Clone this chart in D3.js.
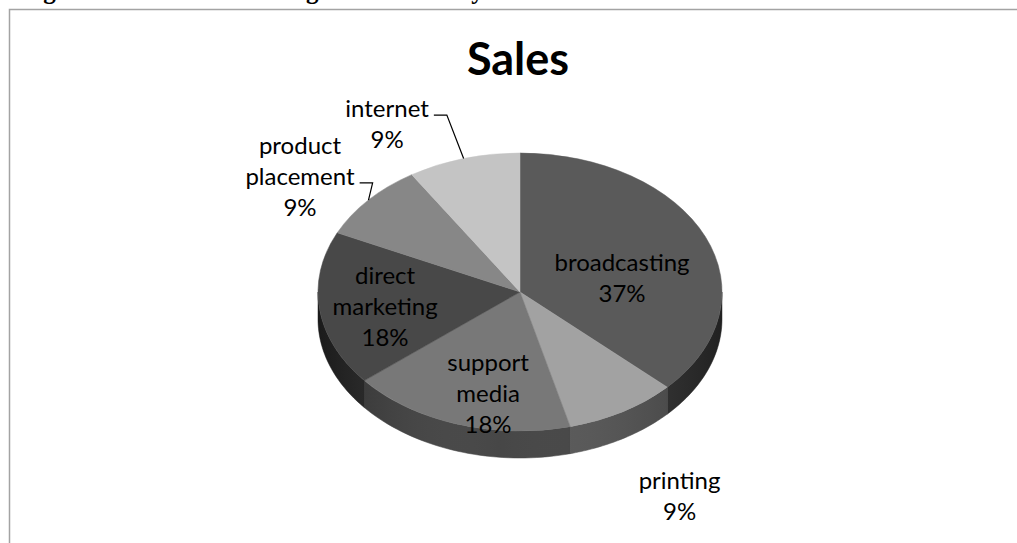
<!DOCTYPE html>
<html>
<head>
<meta charset="utf-8">
<script src="https://cdn.jsdelivr.net/npm/d3@7"></script>
<style>
  body { margin: 0; background: #fff; }
  svg { display: block; }
</style>
</head>
<body>
<div id="chart"></div>
<script>
// chart data
const categories = ['broadcasting', 'printing', 'support media', 'direct marketing', 'product placement', 'internet'];
const values = [37, 9, 18, 18, 9, 9];
const labelLines = [['broadcasting'], ['printing'], ['support', 'media'], ['direct', 'marketing'], ['product', 'placement'], ['internet']];
const sliceColors = ['#5a5a5a', '#a2a2a2', '#787878', '#484848', '#878787', '#c4c4c4'];
const title = 'Sales';
const caption = 'Figure 5: Media advertising distribution by channel';

// label anchor, in units of the pie radii, and leader line settings
const labelAnchor = [[0.505, -0.036], [0.79, 1.532], [-0.158, 0.788], [-0.668, 0.169], [-1.089, -0.77], [-0.658, -1.147]];
const leaderLine = [null, null, null, null, 1, 0];

const W = 1017, H = 543;
const cx = 520, cy = 292, rx = 202, ry = 139, depth = 27;
const lineH = 31;

const svg = d3.select('#chart').append('svg')
  .attr('width', W)
  .attr('height', H);

// cut off caption of the document above the chart
svg.append('text')
  .attr('x', 21)
  .attr('y', -1)
  .attr('font-family', 'Liberation Serif')
  .attr('font-weight', 'bold')
  .attr('font-size', 25)
  .text(caption);

// chart area frame
svg.append('rect')
  .attr('x', 9.5)
  .attr('y', 9.5)
  .attr('width', 1200)
  .attr('height', 700)
  .attr('fill', 'none')
  .attr('stroke', '#a3a3a3')
  .attr('stroke-width', 1.5);

svg.append('text')
  .attr('x', 518)
  .attr('y', 75)
  .attr('text-anchor', 'middle')
  .attr('font-family', 'Lato')
  .attr('font-weight', 'bold')
  .attr('font-size', 45)
  .attr('fill', '#000')
  .text(title);

const rows = categories.map((c, i) => ({ key: c, value: values[i], idx: i }));
const pie = d3.pie().value(d => d.value).sort(null);
const arcs = pie(rows);

// point on the top ellipse for a d3 angle (clockwise from 12 o'clock)
const px = (a, r = 1) => cx + rx * r * Math.sin(a);
const py = (a, r = 1) => cy - ry * r * Math.cos(a);

// front side walls (only the lower half of the ellipse is visible)
const sideG = svg.append('g');
const line = d3.line();
arcs.forEach(d => {
  const a1 = Math.max(d.startAngle, Math.PI / 2);
  const a2 = Math.min(d.endAngle, Math.PI * 3 / 2);
  if (a2 <= a1) return;
  const steps = d3.range(0, 41).map(k => a1 + (a2 - a1) * k / 40);
  const top = steps.map(a => [px(a), py(a)]);
  const bottom = steps.slice().reverse().map(a => [px(a), py(a) + depth]);
  sideG.append('path')
    .attr('d', line(top.concat(bottom)) + 'Z')
    .attr('fill', d3.color(sliceColors[d.data.idx]).darker(2))
    .attr('stroke', d3.color(sliceColors[d.data.idx]).darker(2))
    .attr('stroke-width', 0.5);
});

// soft shading across the side
const defs = svg.append('defs');
const grad = defs.append('linearGradient').attr('id', 'sideShade')
  .attr('x1', 0).attr('x2', 1).attr('y1', 0).attr('y2', 0);
grad.append('stop').attr('offset', '0%').attr('stop-color', '#000').attr('stop-opacity', 0.25);
grad.append('stop').attr('offset', '45%').attr('stop-color', '#fff').attr('stop-opacity', 0.06);
grad.append('stop').attr('offset', '100%').attr('stop-color', '#000').attr('stop-opacity', 0.25);
{
  const steps = d3.range(0, 81).map(k => Math.PI / 2 + Math.PI * k / 80);
  const top = steps.map(a => [px(a), py(a)]);
  const bottom = steps.slice().reverse().map(a => [px(a), py(a) + depth]);
  sideG.append('path')
    .attr('d', line(top.concat(bottom)) + 'Z')
    .attr('fill', 'url(#sideShade)');
}

// top face of the pie, drawn as a circle squashed into an ellipse
const arc = d3.arc().innerRadius(0).outerRadius(rx);
svg.append('g')
  .attr('transform', `translate(${cx},${cy}) scale(1,${ry / rx})`)
  .selectAll('path')
  .data(arcs)
  .join('path')
  .attr('d', arc)
  .attr('fill', d => sliceColors[d.data.idx])
  .attr('stroke', d => sliceColors[d.data.idx])
  .attr('stroke-width', 0.6);

// data labels
const labelG = svg.append('g')
  .attr('font-family', 'Lato')
  .attr('font-size', 24)
  .attr('fill', '#000')
  .attr('text-anchor', 'middle');

arcs.forEach(d => {
  const i = d.data.idx;
  const lines = labelLines[i].concat([`${values[i]}%`]);
  const lx = cx + labelAnchor[i][0] * rx;
  const ly = cy + labelAnchor[i][1] * ry;
  const first = ly - (lines.length - 1) * lineH / 2;
  const t = labelG.append('text');
  lines.forEach((s, k) => {
    t.append('tspan').attr('x', lx).attr('y', first + k * lineH).text(s);
  });

  if (leaderLine[i] !== null) {
    const tspan = t.selectAll('tspan').nodes()[leaderLine[i]];
    const w = tspan.getComputedTextLength();
    const sx = lx + w / 2 + 5;
    const sy = first + leaderLine[i] * lineH - 2;
    const mid = (d.startAngle + d.endAngle) / 2;
    svg.append('path')
      .attr('d', d3.line()([[sx, sy], [sx + 13, sy], [px(mid), py(mid)]]))
      .attr('fill', 'none')
      .attr('stroke', '#000')
      .attr('stroke-width', 1.2);
  }
});
</script>
</body>
</html>
